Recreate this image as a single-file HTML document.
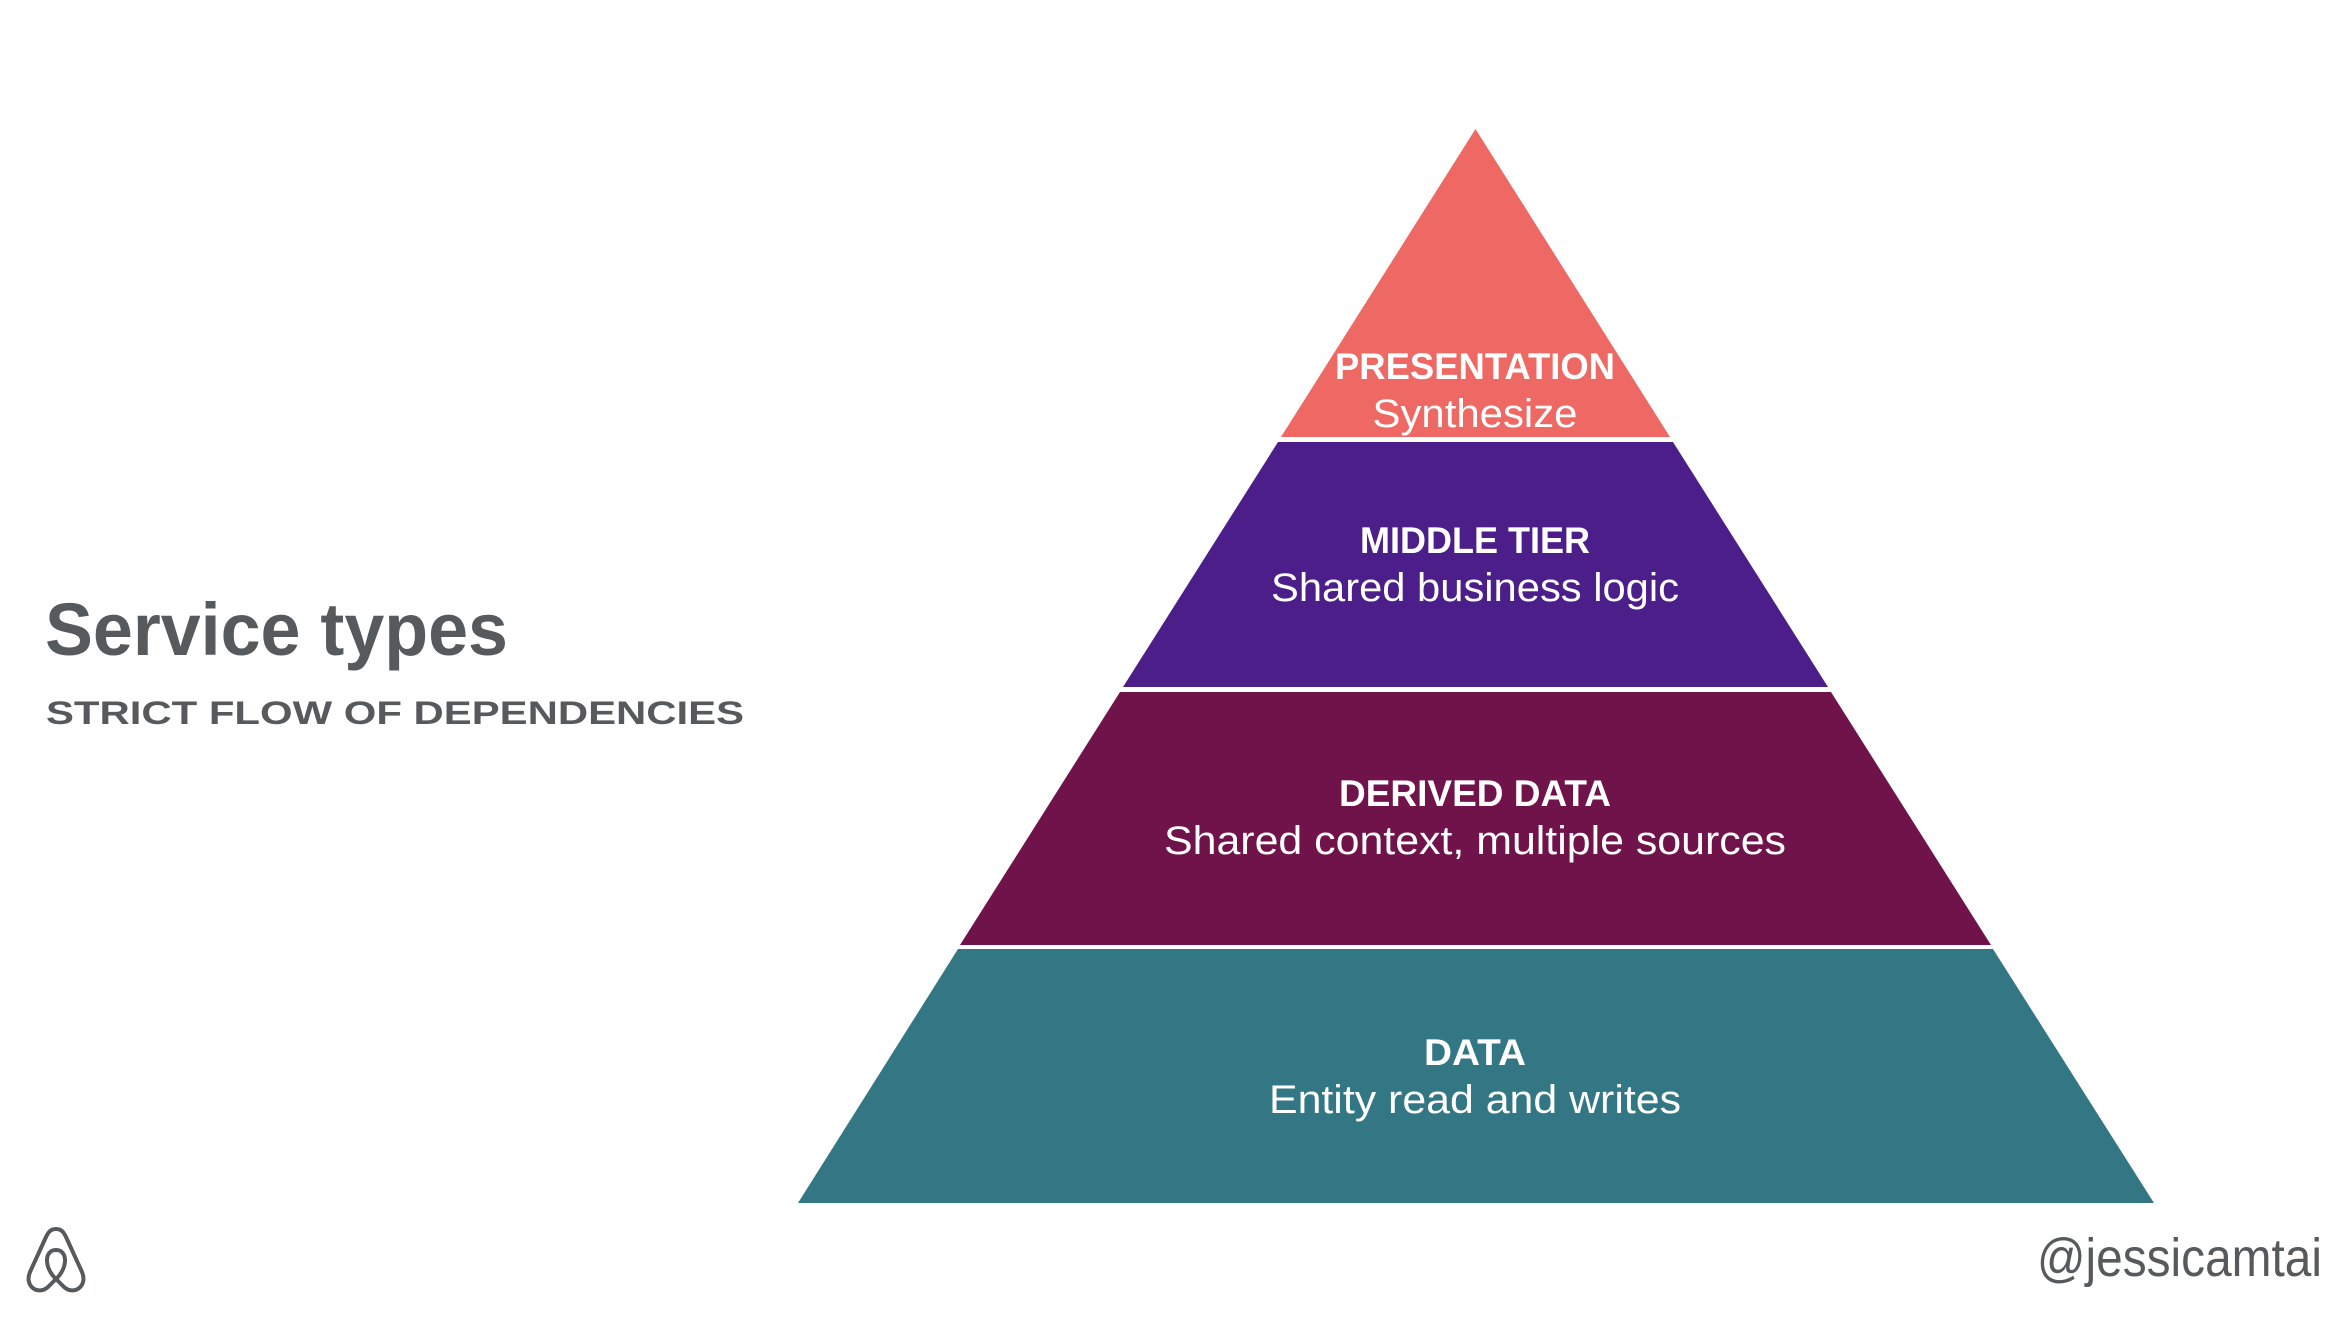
<!DOCTYPE html>
<html><head><meta charset="utf-8"><style>html,body{margin:0;padding:0;background:#fff}svg{display:block}</style></head>
<body>
<svg width="2336" height="1320" viewBox="0 0 2336 1320" xmlns="http://www.w3.org/2000/svg" font-family="Liberation Sans, sans-serif">
<rect width="2336" height="1320" fill="#fff"/>
<g transform="translate(-7,-3)">
<polygon points="1482.5,132 1677,440 1288,440" fill="#ee6864"/>
<polygon points="1285,445 1680,445 1835,690 1130,690" fill="#4c1e8a"/>
<polygon points="1127,695 1838,695 1998,948 967,948" fill="#70134b"/>
<polygon points="965,952 2000,952 2161,1206 805,1206" fill="#347784"/>
<g fill="#fff" text-anchor="middle">
<text x="1482" y="382" font-size="37" font-weight="bold" textLength="280" lengthAdjust="spacingAndGlyphs">PRESENTATION</text>
<text x="1482" y="430" font-size="40" textLength="205" lengthAdjust="spacingAndGlyphs">Synthesize</text>
<text x="1482" y="556" font-size="37" font-weight="bold" textLength="230" lengthAdjust="spacingAndGlyphs">MIDDLE TIER</text>
<text x="1482" y="604" font-size="40" textLength="408" lengthAdjust="spacingAndGlyphs">Shared business logic</text>
<text x="1482" y="809" font-size="37" font-weight="bold" textLength="272" lengthAdjust="spacingAndGlyphs">DERIVED DATA</text>
<text x="1482" y="857" font-size="40" textLength="622" lengthAdjust="spacingAndGlyphs">Shared context, multiple sources</text>
<text x="1482" y="1068" font-size="37" font-weight="bold" textLength="102" lengthAdjust="spacingAndGlyphs">DATA</text>
<text x="1482" y="1116" font-size="40" textLength="412" lengthAdjust="spacingAndGlyphs">Entity read and writes</text>
</g>
</g>
<g fill="#575a5d">
<text x="45" y="655" font-size="74" font-weight="bold" textLength="463" lengthAdjust="spacingAndGlyphs">Service types</text>
<text x="46" y="724" font-size="32" font-weight="bold" textLength="698" lengthAdjust="spacingAndGlyphs">STRICT FLOW OF DEPENDENCIES</text>
<text x="2037" y="1276" font-size="54" textLength="285" lengthAdjust="spacingAndGlyphs">@jessicamtai</text>
</g>
<path d="M56,1229 C50,1229 48,1233 46,1237 L30,1272 C24,1286 38,1296 48,1287 L56,1279 C68,1268 68,1250 56,1250 C44,1250 44,1268 56,1279 L64,1287 C74,1296 88,1286 82,1272 L66,1237 C64,1233 62,1229 56,1229 Z" fill="none" stroke="#575a5d" stroke-width="4" stroke-linejoin="round"/>
</svg>
</body></html>
